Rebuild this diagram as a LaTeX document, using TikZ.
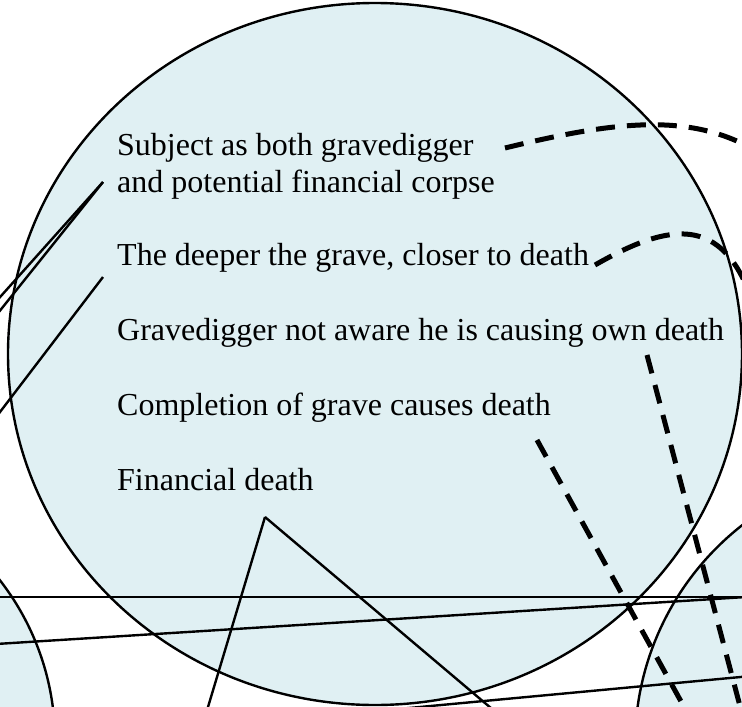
\documentclass[tikz,border=0pt]{standalone}
\usepackage{fontspec}
\setmainfont{Liberation Serif}
\usepackage{tikz}
\usetikzlibrary{calc}
\definecolor{paleblue}{RGB}{224,240,243}

\begin{document}
\begin{tikzpicture}[x=1pt, y=-1pt,
    blob/.style={draw, line width=2.4pt, fill=paleblue},
    txt/.style={anchor=base west, inner sep=0pt, align=left, font=\fontsize{32}{37}\selectfont},
    link/.style={line width=2.4pt},
    hint/.style={line width=5pt, dash pattern=on 19pt off 12pt}
]
\useasboundingbox (0,0) rectangle (742,707);
\clip (0,0) rectangle (742,707);

\draw[blob] (375,354) ellipse [x radius=367, y radius=351];
\draw[blob] (-207,741) circle [radius=262];
\draw[blob] (914,745) circle [radius=279];

\node[txt] (digger) at (117,192) {Subject as both gravedigger\\and potential financial corpse};
\node[txt] (deeper) at (117,265) {The deeper the grave, closer to death};
\node[txt] (unaware) at (117,340) {Gravedigger not aware he is causing own death};
\node[txt] (complete) at (117,415) {Completion of grave causes death};
\node[txt] (findeath) at (117,490) {Financial death};

\coordinate (digL) at (103,182);
\coordinate (digR) at (505,148);
\coordinate (deepL) at (103,277);
\coordinate (deepR) at (595,265);
\coordinate (unawB) at (647,355);
\coordinate (compB) at (537,440);
\coordinate (finB) at (265,517);

\coordinate (outA) at (-50,353);
\coordinate (outB) at (-50,373);
\coordinate (outC) at (-50,342);
\coordinate (outD) at (196,747);
\coordinate (outE) at (537,747);
\coordinate (outF) at (770,160);
\coordinate (outG) at (752,300);
\coordinate (outH) at (745,725);
\coordinate (outI) at (694,725);
\coordinate (hzL) at (-20,597);
\coordinate (hzR) at (762,597);
\coordinate (slL) at (-20,645);
\coordinate (slR) at (762,596);
\coordinate (lwL) at (377,711);
\coordinate (lwR) at (762,675);

\draw[link] (digL) -- (outA);
\draw[link] (digL) -- (outB);
\draw[link] (deepL) -- ($(deepL)!1.6!(0,412)$);
\draw[link] (finB) -- (outD);
\draw[link] (finB) -- (outE);
\draw[link] (hzL) -- (hzR);
\draw[link] (slL) -- (slR);
\draw[link] (lwL) -- (lwR);

\draw[hint] (digR) .. controls (620,120) and (700,110) .. (outF);
\draw[hint] (deepR) .. controls (670,222) and (722,215) .. (outG);
\draw[hint] (unawB) -- (outH);
\draw[hint] (compB) -- (outI);
\end{tikzpicture}
\end{document}
